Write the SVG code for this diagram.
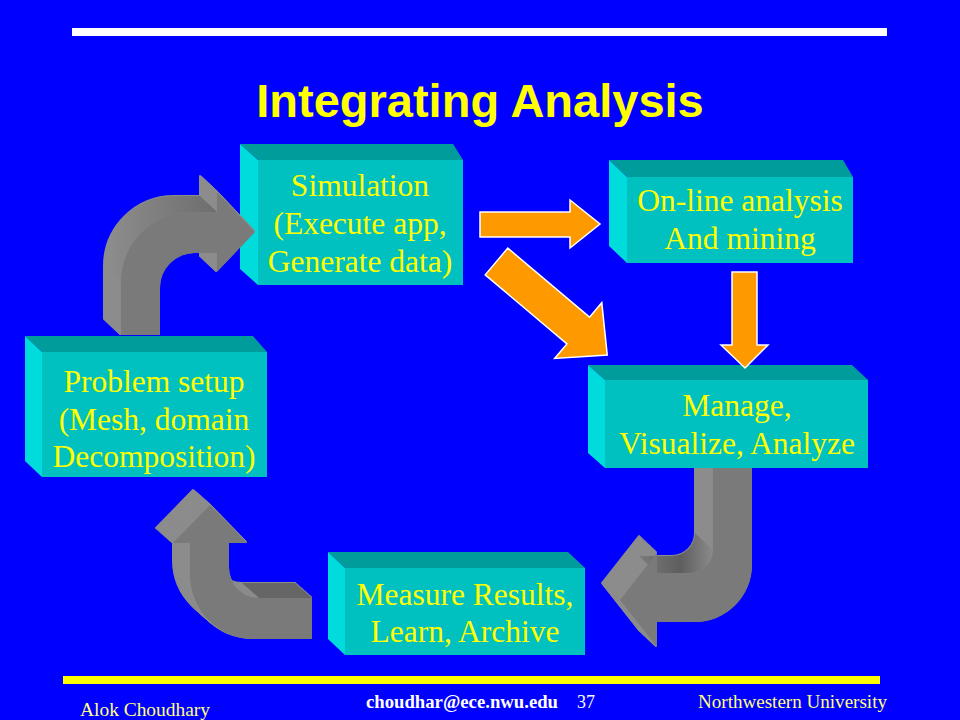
<svg xmlns="http://www.w3.org/2000/svg" xmlns:xlink="http://www.w3.org/1999/xlink" width="960" height="720" viewBox="0 0 960 720">
<style>
.top{fill:#009c9c}
.side{fill:#00dcdc}
.front{fill:#00c0c0}
.lbl{font-family:"Liberation Serif","Times New Roman",serif;font-size:31.5px;fill:#ffff00;text-anchor:middle}
.orange{fill:#ff9900;stroke:#ffffff;stroke-width:1.5;stroke-linejoin:miter}
.ext{fill:#8c8c8c;stroke:#8c8c8c;stroke-width:2;stroke-linejoin:round}
.face{fill:#7a7a7a}
.foot{font-family:"Liberation Serif","Times New Roman",serif;font-size:18px}
</style>
<defs>
<path id="g1" d="M 121 335 L 121 282 A 70 70 0 0 1 191 212 L 217 212 L 217 192 L 255 232 L 217 272 L 217 253 L 195 253 A 35 35 0 0 0 160 288 L 160 335 Z"/>
<path id="g2" d="M 713 468 L 752 468 L 752 565 A 57 57 0 0 1 695 622 L 657 622 L 657 647 L 620 600 L 657 553 L 657 573 L 690 573 A 23 23 0 0 0 713 550 Z"/>
<path id="g3" d="M 173 543 L 210 505 L 247 543 L 229 543 L 229 568 A 30 30 0 0 0 259 598 L 312 598 L 312 639 L 254 639 A 64 64 0 0 1 190 575 L 190 543 Z"/>
<linearGradient id="gr1" gradientUnits="userSpaceOnUse" x1="110" y1="0" x2="215" y2="0">
<stop offset="0" stop-color="#8c8c8c"/><stop offset="1" stop-color="#6e6e6e"/>
</linearGradient>
<linearGradient id="gr2" gradientUnits="userSpaceOnUse" x1="640" y1="0" x2="713" y2="0">
<stop offset="0" stop-color="#7a7a7a"/><stop offset="0.55" stop-color="#5e5e5e"/><stop offset="1" stop-color="#8a8a8a"/>
</linearGradient>
<clipPath id="c2"><rect x="560" y="468" width="300" height="200"/></clipPath>
</defs>
<rect x="0" y="0" width="960" height="720" fill="#0000ff"/>
<rect x="72" y="28" width="815" height="8" fill="#ffffff"/>
<text x="480" y="117" font-family="Liberation Sans, Arial, sans-serif" font-weight="bold" font-size="47" fill="#ffff00" text-anchor="middle">Integrating Analysis</text>

<g id="n-simulation">
<polygon class="top" points="240,144 453,144 463,160 258,160"/>
<polygon class="side" points="240,144 258,160 258,285 240,269"/>
<rect class="front" x="258" y="160" width="205" height="125"/>
<text class="lbl" x="360" y="196">Simulation</text>
<text class="lbl" x="360" y="234">(Execute app,</text>
<text class="lbl" x="360" y="272">Generate data)</text>
</g>
<g id="n-online">
<polygon class="top" points="609,160 843,160 853,177 627,177"/>
<polygon class="side" points="609,160 627,177 627,263 609,246"/>
<rect class="front" x="627" y="177" width="226" height="86"/>
<text class="lbl" x="740" y="211">On-line analysis</text>
<text class="lbl" x="740" y="249">And mining</text>
</g>
<g id="n-problem">
<polygon class="top" points="25,336 253,336 267,352 42,352"/>
<polygon class="side" points="25,336 42,352 42,477 25,461"/>
<rect class="front" x="42" y="352" width="225" height="125"/>
<text class="lbl" x="154" y="392">Problem setup</text>
<text class="lbl" x="154" y="430">(Mesh, domain</text>
<text class="lbl" x="154" y="467">Decomposition)</text>
</g>
<g id="n-manage">
<polygon class="top" points="588,365 852,365 868,380 605,380"/>
<polygon class="side" points="588,365 605,380 605,468 588,453"/>
<rect class="front" x="605" y="380" width="263" height="88"/>
<text class="lbl" x="737" y="416">Manage,</text>
<text class="lbl" x="737" y="454">Visualize, Analyze</text>
</g>
<g id="n-measure">
<polygon class="top" points="328,552 568,552 585,568 345,568"/>
<polygon class="side" points="328,552 345,568 345,655 328,639"/>
<rect class="front" x="345" y="568" width="240" height="87"/>
<text class="lbl" x="465" y="605">Measure Results,</text>
<text class="lbl" x="465" y="642">Learn, Archive</text>
</g>

<g id="connectors">
<g id="e-problem-simulation">
<g class="ext">
<use xlink:href="#g1" transform="translate(-17,-16)"/>
<use xlink:href="#g1" transform="translate(-15.94,-15)"/>
<use xlink:href="#g1" transform="translate(-14.88,-14)"/>
<use xlink:href="#g1" transform="translate(-13.81,-13)"/>
<use xlink:href="#g1" transform="translate(-12.75,-12)"/>
<use xlink:href="#g1" transform="translate(-11.69,-11)"/>
<use xlink:href="#g1" transform="translate(-10.63,-10)"/>
<use xlink:href="#g1" transform="translate(-9.56,-9)"/>
<use xlink:href="#g1" transform="translate(-8.5,-8)"/>
<use xlink:href="#g1" transform="translate(-7.44,-7)"/>
<use xlink:href="#g1" transform="translate(-6.38,-6)"/>
<use xlink:href="#g1" transform="translate(-5.31,-5)"/>
<use xlink:href="#g1" transform="translate(-4.25,-4)"/>
<use xlink:href="#g1" transform="translate(-3.19,-3)"/>
<use xlink:href="#g1" transform="translate(-2.13,-2)"/>
<use xlink:href="#g1" transform="translate(-1.06,-1)"/>
</g>
<path d="M 104 266 A 70 70 0 0 1 174 196 L 200 196 L 217 212 L 191 212 A 70 70 0 0 0 121 282 Z" fill="url(#gr1)"/>
<use xlink:href="#g1" class="face"/>
</g>
<g id="e-manage-measure" clip-path="url(#c2)">
<g class="ext">
<use xlink:href="#g2" transform="translate(-18,-17)"/>
<use xlink:href="#g2" transform="translate(-16.88,-15.94)"/>
<use xlink:href="#g2" transform="translate(-15.75,-14.88)"/>
<use xlink:href="#g2" transform="translate(-14.63,-13.81)"/>
<use xlink:href="#g2" transform="translate(-13.5,-12.75)"/>
<use xlink:href="#g2" transform="translate(-12.38,-11.69)"/>
<use xlink:href="#g2" transform="translate(-11.25,-10.63)"/>
<use xlink:href="#g2" transform="translate(-10.13,-9.56)"/>
<use xlink:href="#g2" transform="translate(-9,-8.5)"/>
<use xlink:href="#g2" transform="translate(-7.88,-7.44)"/>
<use xlink:href="#g2" transform="translate(-6.75,-6.38)"/>
<use xlink:href="#g2" transform="translate(-5.63,-5.31)"/>
<use xlink:href="#g2" transform="translate(-4.5,-4.25)"/>
<use xlink:href="#g2" transform="translate(-3.38,-3.19)"/>
<use xlink:href="#g2" transform="translate(-2.25,-2.13)"/>
<use xlink:href="#g2" transform="translate(-1.13,-1.06)"/>
</g>
<path d="M 639 556 L 672 556 A 23 23 0 0 0 695 533 L 713 550 A 23 23 0 0 1 690 573 L 657 573 Z" fill="url(#gr2)"/>
<use xlink:href="#g2" class="face"/>
</g>
<g id="e-measure-problem">
<g class="ext">
<use xlink:href="#g3" transform="translate(-17,-15)"/>
<use xlink:href="#g3" transform="translate(-15.94,-14.06)"/>
<use xlink:href="#g3" transform="translate(-14.88,-13.13)"/>
<use xlink:href="#g3" transform="translate(-13.81,-12.19)"/>
<use xlink:href="#g3" transform="translate(-12.75,-11.25)"/>
<use xlink:href="#g3" transform="translate(-11.69,-10.31)"/>
<use xlink:href="#g3" transform="translate(-10.63,-9.38)"/>
<use xlink:href="#g3" transform="translate(-9.56,-8.44)"/>
<use xlink:href="#g3" transform="translate(-8.5,-7.5)"/>
<use xlink:href="#g3" transform="translate(-7.44,-6.56)"/>
<use xlink:href="#g3" transform="translate(-6.38,-5.63)"/>
<use xlink:href="#g3" transform="translate(-5.31,-4.69)"/>
<use xlink:href="#g3" transform="translate(-4.25,-3.75)"/>
<use xlink:href="#g3" transform="translate(-3.19,-2.81)"/>
<use xlink:href="#g3" transform="translate(-2.13,-1.88)"/>
<use xlink:href="#g3" transform="translate(-1.06,-0.94)"/>
</g>
<polygon points="242,583 295,583 312,598 259,598" fill="#666666"/>
<use xlink:href="#g3" class="face"/>
</g>
<polygon id="e-simulation-online" class="orange" points="480,212 570,212 570,200 600,224 570,248 570,237 480,237"/>
<polygon id="e-simulation-manage" class="orange" transform="translate(496.5,261.5) rotate(40.2)" points="0,-17.5 107,-17.5 107,-36.5 145,0 107,36.5 107,17.5 0,17.5"/>
<polygon id="e-online-manage" class="orange" points="732,272 757,272 757,345 768,345 745,368 721,345 732,345"/>
</g>

<rect x="63" y="676" width="817" height="8" fill="#ffff00"/>
<text class="foot" x="80" y="716" fill="#ffff80" textLength="130" lengthAdjust="spacingAndGlyphs">Alok Choudhary</text>
<text class="foot" x="366" y="708" fill="#ffffff" font-weight="bold" textLength="192" lengthAdjust="spacingAndGlyphs">choudhar@ece.nwu.edu</text>
<text class="foot" x="577" y="708" fill="#ffffff">37</text>
<text class="foot" x="698" y="708" fill="#ffff80" textLength="189" lengthAdjust="spacingAndGlyphs">Northwestern University</text>
</svg>
